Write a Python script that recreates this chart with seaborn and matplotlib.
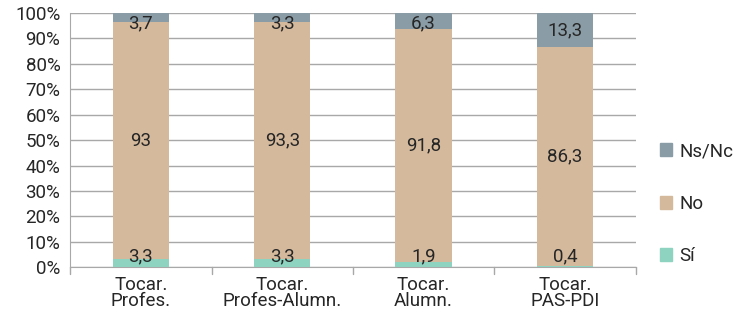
import pandas as pd
import matplotlib.pyplot as plt
import seaborn as sns
from matplotlib.patches import Patch

categories = ["Tocar.\nProfes.", "Tocar.\nProfes-Alumn.", "Tocar.\nAlumn.", "Tocar.\nPAS-PDI"]
si = [3.3, 3.3, 1.9, 0.4]
no = [93, 93.3, 91.8, 86.3]
nsnc = [3.7, 3.3, 6.3, 13.3]

colors = {"Sí": "#8dd3c0", "No": "#d4b99c", "Ns/Nc": "#8a9ca6"}

sns.set_style("white")
plt.rcParams["font.family"] = ["Roboto", "DejaVu Sans"]

df = pd.DataFrame({"cat": categories, "Sí": si, "No": no, "Ns/Nc": nsnc})

fig, ax = plt.subplots(figsize=(7.39, 3.26), dpi=100)
fig.subplots_adjust(left=0.095, right=0.86, top=0.96, bottom=0.18)

fs = 13.5
txt = "#262626"
bottom = [0.0] * len(df)
for s in ["Sí", "No", "Ns/Nc"]:
    sns.barplot(data=df, x="cat", y=s, color=colors[s], width=0.4,
                bottom=bottom, ax=ax, saturation=1, zorder=3, linewidth=0)
    for i, v in enumerate(df[s]):
        c = bottom[i] + v / 2
        c = min(max(c, 4.4), 95.8)
        ax.text(i, c, f"{v:g}".replace(".", ","), ha="center", va="center",
                fontsize=fs, color=txt, zorder=4)
    bottom = [b + v for b, v in zip(bottom, df[s])]

ax.set_ylim(0, 100)
ax.set_xlim(-0.5, 3.5)
ax.set_yticks(range(0, 101, 10))
ax.set_yticklabels([f"{t}%" for t in range(0, 101, 10)], fontsize=fs)
ax.yaxis.grid(True, color="#a8a8a8", linewidth=1, zorder=0)
ax.set_axisbelow(True)
ax.set_xlabel("")
ax.set_ylabel("")
ax.tick_params(axis="y", length=6, color="#a8a8a8", pad=1, labelcolor=txt)
ax.tick_params(axis="x", length=0, labelsize=fs, labelcolor=txt, pad=6)
for lab in ax.get_xticklabels():
    lab.set_linespacing(0.9)
for tx in [0.5, 1.5, 2.5, 3.5, -0.5]:
    ax.plot([tx, tx], [0, -2.5], color="#a8a8a8", lw=1, clip_on=False)

for sp in ["top", "right"]:
    ax.spines[sp].set_visible(False)
ax.spines["left"].set_color("#a8a8a8")
ax.spines["bottom"].set_color("#a8a8a8")

handles = [Patch(color=colors[s], label=s) for s in ["Ns/Nc", "No", "Sí"]]
ax.legend(handles=handles, loc="center left", bbox_to_anchor=(1.044, 0.25),
          frameon=False, fontsize=fs, labelspacing=1.85, handlelength=0.64,
          handleheight=0.7, handletextpad=0.37, borderpad=0, borderaxespad=0,
          labelcolor=txt)

plt.savefig("out.png", dpi=100)
